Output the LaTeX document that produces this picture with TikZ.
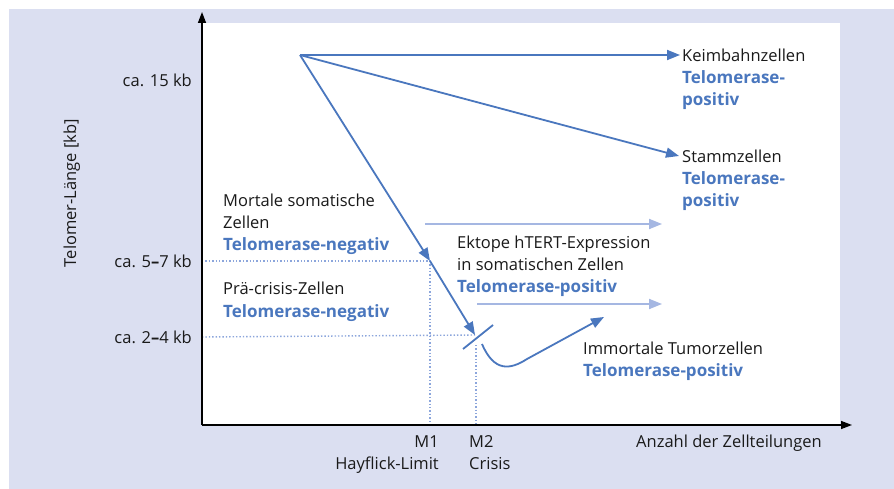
\documentclass[tikz,border=0pt]{standalone}
\usepackage{fontspec}
\setmainfont{Open Sans}
\usetikzlibrary{arrows.meta}
\definecolor{panelbg}{RGB}{219,223,241}
\definecolor{curveblue}{RGB}{74,119,190}
\definecolor{paleblue}{RGB}{165,183,226}
\definecolor{guideblue}{RGB}{140,166,220}
\definecolor{ink}{RGB}{26,26,26}
\tikzset{
  lbl/.style={anchor=base west, inner sep=0pt, text=ink, font=\fontsize{16.5}{22}\selectfont},
  lblr/.style={lbl, anchor=base east},
  hl/.style={lbl, text=curveblue, font=\fontsize{17}{22}\selectfont\bfseries},
  axis/.style={line width=1.4pt, black, -{Triangle[length=11pt,width=8pt]}},
  flow/.style={line width=1.8pt, curveblue, -{Triangle[length=13pt,width=10pt]}},
  paleflow/.style={line width=1.8pt, paleblue, -{Triangle[length=13pt,width=10pt]}},
  guide/.style={line width=1.4pt, guideblue, dash pattern=on 1.4pt off 2pt},
}
\begin{document}
\begin{tikzpicture}[x=1pt,y=-1pt]
\useasboundingbox (0,0) rectangle (894,489);
% panels
\fill[panelbg] (9,9) rectangle (894,489);
\fill[white] (202,23) rectangle (840,425);

% reference points
\coordinate (o) at (202,425);
\coordinate (ytip) at (202,12);
\coordinate (xtip) at (852,425);
\coordinate (start) at (300,55);
\coordinate (germ) at (680,55);
\coordinate (stem) at (679,156);
\coordinate (m1) at (430,261);
\coordinate (m2) at (475,335);
\coordinate (m1base) at (430,425);
\coordinate (m2base) at (476,425);
\coordinate (y57) at (202,261);
\coordinate (y24) at (202,337);
\coordinate (slashA) at (463,349);
\coordinate (slashB) at (493,325);
\coordinate (tumA) at (482,344);
\coordinate (tumB) at (527,359);
\coordinate (tumTip) at (604,317);
\coordinate (ektA) at (425,224);
\coordinate (ektAend) at (662,224);
\coordinate (ektB) at (477,304);
\coordinate (ektBend) at (662,304);

% guide lines
\draw[guide] (y57) -- (m1) -- (m1base);
\draw[guide] (y24) -- (m2);
\draw[guide] (476,345) -- (m2base);

% axes
\draw[axis] (o) -- (ytip);
\draw[axis] (o) -- (xtip);

% telomere trajectories
\draw[flow] (start) -- (germ);
\draw[flow] (start) -- (stem);
\draw[flow] (start) -- (m1);
\draw[flow] (m1) -- (m2);
\draw[line width=1.8pt, curveblue] (slashA) -- (slashB);
\draw[flow] (tumA) .. controls (494,372) and (510,370) .. (tumB) -- (tumTip);
\draw[paleflow] (ektA) -- (ektAend);
\draw[paleflow] (ektB) -- (ektBend);

% y-axis ticks and title
\node[lblr] (t15) at (192,87) {ca. 15 kb};
\node[lblr] (t57) at (192,267) {ca. 5\textbf{--}7 kb};
\node[lblr] (t24) at (192,343) {ca. 2\textbf{--}4 kb};
\node[lbl, anchor=base, rotate=90] (ytitle) at (76,193) {Telomer-Länge [kb]};

% x-axis labels
\node[lblr] (m1a) at (439,447) {M1};
\node[lblr] (m1b) at (439,469) {Hayflick-Limit};
\node[lbl] (m2a) at (469,447) {M2};
\node[lbl] (m2b) at (469,469) {Crisis};
\node[lbl] (xtitle) at (636,447) {Anzahl der Zellteilungen};

% cell populations
\node[lbl] (kb1) at (682,62) {Keimbahnzellen};
\node[hl] (kb2) at (682,84) {Telomerase-};
\node[hl] (kb3) at (682,106) {positiv};
\node[lbl] (sz1) at (682,163) {Stammzellen};
\node[hl] (sz2) at (682,185) {Telomerase-};
\node[hl] (sz3) at (682,207) {positiv};
\node[lbl] (ms1) at (223,207) {Mortale somatische};
\node[lbl] (ms2) at (223,229) {Zellen};
\node[hl] (ms3) at (223,251) {Telomerase-negativ};
\node[lbl] (pc1) at (223,294) {Prä-crisis-Zellen};
\node[hl] (pc2) at (223,317) {Telomerase-negativ};
\node[lbl] (ek1) at (457,248) {Ektope hTERT-Expression};
\node[lbl] (ek2) at (457,270) {in somatischen Zellen};
\node[hl] (ek3) at (457,292) {Telomerase-positiv};
\node[lbl] (im1) at (583,354) {Immortale Tumorzellen};
\node[hl] (im2) at (583,376) {Telomerase-positiv};
\end{tikzpicture}
\end{document}
